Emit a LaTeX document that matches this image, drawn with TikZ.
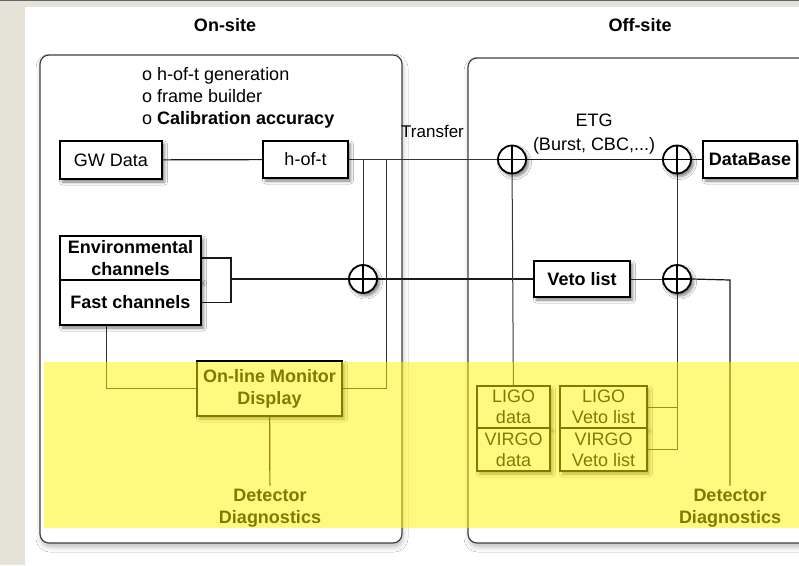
\documentclass[tikz,border=0pt]{standalone}
\usepackage{fontspec}
\setmainfont{Liberation Sans}
\usetikzlibrary{shadows.blur,calc,backgrounds}
\definecolor{bgbeige}{RGB}{229,227,215}
\definecolor{bandyellow}{RGB}{255,246,0}
\tikzset{
  shad/.style={blur shadow={shadow xshift=2.5pt, shadow yshift=-3pt, shadow blur radius=3pt, shadow opacity=50}},
  box/.style={draw=black, line width=1.6pt, fill=white, inner sep=0pt, align=center,
    font=\fontsize{18}{21}\selectfont, shad},
  bbox/.style={box, font=\fontsize{18}{22}\selectfont\bfseries},
  sbox/.style={draw=black, line width=1.1pt, fill=white, inner sep=0pt, align=center,
    font=\fontsize{18}{21}\selectfont, shad},
  sumc/.style={circle, draw=black, line width=1.8pt, fill=white, minimum size=28pt, inner sep=0pt, shad,
    path picture={\draw[line width=1.6pt] (path picture bounding box.north) -- (path picture bounding box.south)
      (path picture bounding box.west) -- (path picture bounding box.east);}},
  conn/.style={draw=black!90, line width=1.2pt},
  tconn/.style={draw=black!80, line width=1pt},
  frame/.style={draw=black!75, line width=1.2pt, rounded corners=9pt, fill=white,
    blur shadow={shadow xshift=1pt, shadow yshift=-4pt, shadow blur radius=5pt, shadow opacity=25}},
  lbl/.style={inner sep=0pt, font=\fontsize{18}{22}\selectfont},
  blbl/.style={inner sep=0pt, font=\fontsize{18}{22}\selectfont\bfseries},
}
\begin{document}
\begin{tikzpicture}[x=1pt,y=-1pt]
\useasboundingbox (0,0) rectangle (799,565);
\clip (0,0) rectangle (799,565);
% nodes
\node[blbl] (onsite) at (225,25) {On-site};
\node[blbl] (offsite) at (640,25) {Off-site};
\node[lbl, anchor=west, align=left] (bullets) at (142,98) {o h-of-t generation\\o frame builder\\o \textbf{Calibration accuracy}};
\node[lbl, anchor=west, font=\fontsize{17}{22}\selectfont] (transfer) at (401,131) {Transfer};
\node[lbl, align=center, font=\fontsize{18}{24}\selectfont] (etg) at (594,134) {ETG\\(Burst, CBC,...)};
\node[box, minimum width=102pt, minimum height=38pt] (gw) at (111,160) {GW Data};
\node[box, minimum width=85pt, minimum height=37pt] (hoft) at (305.5,159.5) {h-of-t};
\node[bbox, minimum width=94pt, minimum height=37pt] (db) at (750,159.5) {DataBase};
\node[sumc] (c1) at (512,159.5) {};
\node[sumc] (c2) at (677,159.5) {};
\node[sumc] (c3) at (363,279) {};
\node[sumc] (c4) at (677,279) {};
\node[bbox, minimum width=141pt, minimum height=44pt] (env) at (130.5,258) {Environmental\\channels};
\node[bbox, minimum width=141pt, minimum height=45pt] (fast) at (130.5,302.5) {Fast channels};
\node[bbox, minimum width=96pt, minimum height=36pt] (veto) at (582,279) {Veto list};
\node[bbox, minimum width=145pt, minimum height=55pt] (mon) at (269.5,388.5) {On-line Monitor\\Display};
\node[sbox, minimum width=73pt, minimum height=42pt] (ligod) at (513.5,407) {LIGO\\data};
\node[sbox, minimum width=73pt, minimum height=43pt] (virgod) at (513.5,449.5) {VIRGO\\data};
\node[sbox, minimum width=87pt, minimum height=42pt] (ligov) at (603.5,407) {LIGO\\Veto list};
\node[sbox, minimum width=87pt, minimum height=43pt] (virgov) at (603.5,449.5) {VIRGO\\Veto list};
\node[blbl, align=center, inner sep=3pt] (dd1) at (270,508) {Detector\\Diagnostics};
\node[blbl, align=center, inner sep=3pt] (dd2) at (730,508) {Detector\\Diagnostics};
\coordinate (j1) at (363,159.5);
\coordinate (j2) at (386,159.5);
\coordinate (br) at (231,279);
\coordinate (k1) at (730,280);
\coordinate (k2) at (677,449.5);
\begin{pgfonlayer}{background}
  \fill[bgbeige] (0,0) rectangle (799,565);
  \fill[black!60] (0,0) rectangle (799,1.2);
  \fill[white] (25,7) rectangle (799,565);
  \draw[frame] (40,55) rectangle (402,543);
  \draw[frame] (468,58) rectangle (840,543);
  \draw[conn] (gw) -- (hoft);
  \draw[tconn] (hoft.east) -- (c1.west);
  \draw[conn] (c1) -- (c2);
  \draw[conn] (c2) -- (db);
  \draw[tconn] (j1) -- (c3.north);
  \draw[tconn] (j2) |- (mon.east);
  \draw[conn] (env.east) -| (br) |- (fast.east);
  \draw[conn] (br) -- (c3.west);
  \draw[conn] (c3) -- (veto);
  \draw[tconn] (veto) -- (c4);
  \draw[conn] (c4.east) -- (k1) -- (dd2.north);
  \draw[tconn] ($(fast.south west)!0.333!(fast.south east)$) |- (mon.west);
  \draw[conn] (mon) -- (dd1);
  \draw[tconn] (c1) -- (ligod);
  \draw[tconn] (c2) -- (c4);
  \draw[tconn] (c4.south) -- (k2);
  \draw[tconn] (ligov.east) -- (ligov.east -| k2);
  \draw[tconn] (virgov.east) -- (k2);
\end{pgfonlayer}
\fill[bandyellow, opacity=0.5] (44,362) rectangle (799,528);
\end{tikzpicture}
\end{document}
